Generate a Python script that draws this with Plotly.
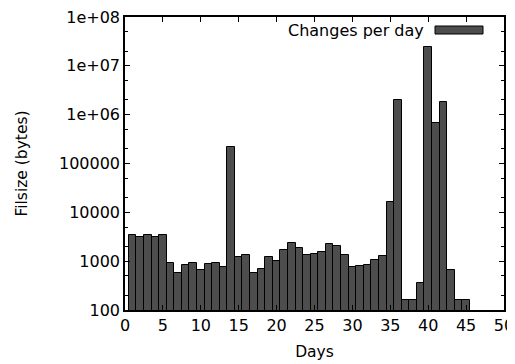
import plotly.graph_objects as go

days = list(range(1, 46))
changes = [3430, 3200, 3430, 3200, 3430, 925, 575, 830, 925, 650,
           870, 910, 765, 216000, 1190, 1330, 575, 685, 1210, 1015,
           1710, 2340, 1850, 1350, 1435, 1530, 2200, 2000, 1330, 776,
           790, 830, 1065, 1250, 16000, 2000000, 163, 163, 364, 23800000,
           684000, 1850000, 674, 163, 163]

y_tickvals = [1e2, 1e3, 1e4, 1e5, 1e6, 1e7, 1e8]
y_ticktext = ["100", "1000", "10000", "100000", "1e+06", "1e+07", "1e+08"]
y_minor = [m * 10 ** e for e in range(2, 8) for m in (2, 5)]
x_tickvals = list(range(0, 51, 5))
legend_label = "Changes per day"

font = dict(family="DejaVu Sans, sans-serif", size=16, color="#000000")
title_font = dict(family="DejaVu Sans, sans-serif", size=15.5, color="#000000")

# page has an 8px body margin; plot area target (page px): x 125..504, y 17..310
OFF = 8
PL, PR, PT, PB = 125, 504, 17, 310
W, H = 515 - OFF, 364 - OFF

fig = go.Figure()
fig.add_trace(go.Bar(
    x=days, y=changes, width=1.0, name=legend_label,
    marker=dict(color="#4d4d4d", line=dict(color="#000000", width=1)),
    showlegend=False,
))

fig.update_layout(
    width=W, height=H,
    margin=dict(l=PL - OFF, r=W - (PR - OFF), t=PT - OFF, b=H - (PB - OFF), pad=0,
                autoexpand=False),
    paper_bgcolor="white", plot_bgcolor="white",
    font=font, bargap=0,
    xaxis=dict(
        range=[0, 50], tickvals=x_tickvals, ticks="inside", ticklen=5,
        tickcolor="black", showline=True, linecolor="black", linewidth=1.5,
        mirror="allticks", showgrid=False, zeroline=False, automargin=False,
        ticklabeloverflow="allow",
        title=dict(text="Days", standoff=12, font=title_font), tickfont=font,
    ),
    yaxis=dict(
        type="log", range=[2, 8], tickvals=y_tickvals, ticktext=y_ticktext,
        ticks="inside", ticklen=5, tickcolor="black",
        showline=True, linecolor="black", linewidth=1.5, mirror="allticks",
        showgrid=False, zeroline=False, automargin=False,
        ticklabeloverflow="allow",
        minor=dict(tickvals=y_minor, ticks="inside", ticklen=3, tickcolor="black", showgrid=False),
        title=dict(text="Filsize (bytes)", standoff=28, font=title_font), tickfont=font,
    ),
)

pw, ph = PR - PL, PB - PT
fig.add_annotation(
    xref="paper", yref="paper", x=(426 - PL) / pw, y=1 - (30 - PT) / ph,
    text=legend_label, showarrow=False, xanchor="right", yanchor="middle", font=font,
)
fig.add_shape(
    type="rect", xref="paper", yref="paper",
    x0=(435 - PL) / pw, x1=(483 - PL) / pw,
    y0=1 - (34 - PT) / ph, y1=1 - (26 - PT) / ph,
    fillcolor="#4d4d4d", line=dict(color="#000000", width=1),
)

fig.write_html("out.html")
